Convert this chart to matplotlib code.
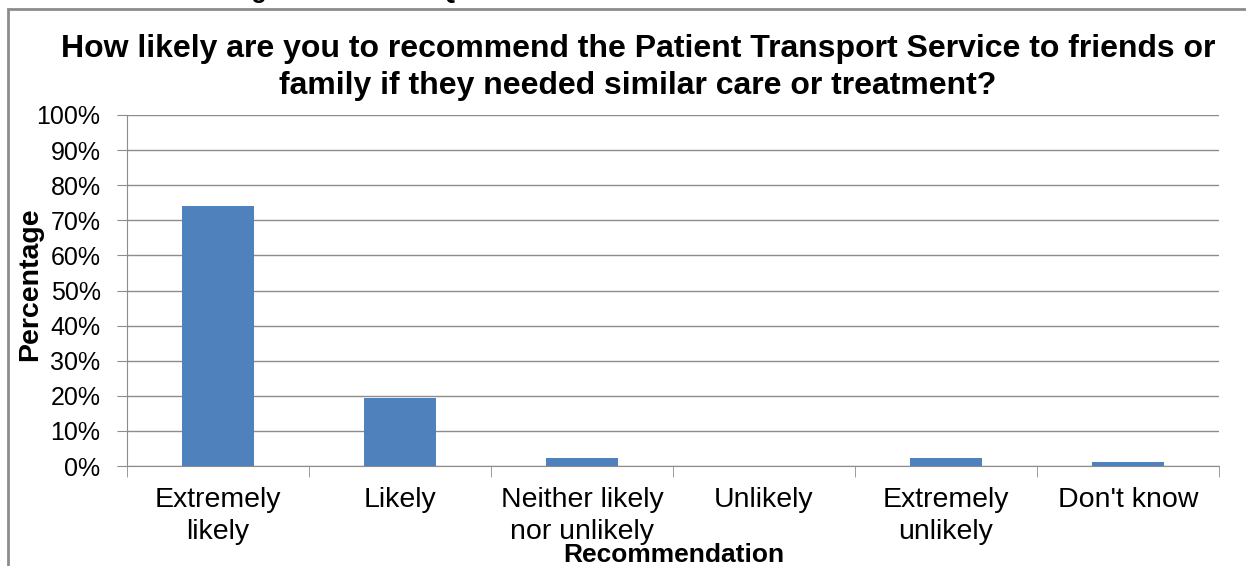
import numpy as np
import matplotlib.pyplot as plt
from matplotlib.patches import Rectangle
from matplotlib.ticker import PercentFormatter

categories = ["Extremely\nlikely", "Likely", "Neither likely\nnor unlikely",
              "Unlikely", "Extremely\nunlikely", "Don't know"]
values = [74.2, 19.4, 2.2, 0.0, 2.2, 1.1]

plt.rcParams['font.family'] = ['Liberation Sans', 'DejaVu Sans']

W, H = 1246, 566
fig = plt.figure(figsize=(W / 100, H / 100), dpi=100)
ax = fig.add_axes([127 / W, 1 - 466 / H, (1219 - 127) / W, (466 - 115) / H])

# frame around the chart (cut off at right and bottom)
fig.patches.append(Rectangle((8 / W, -0.1), 1.2, (H - 9) / H + 0.1,
                             transform=fig.transFigure, fill=False,
                             edgecolor="#8c8c8c", linewidth=2))

# clipped text of the page above the chart
fig.text(20 / W, 1 + 2 / H, "and chart illustrating the results of Q7",
         fontsize=18, fontweight="bold", va="baseline", ha="left")

x = np.arange(len(categories))
ax.bar(x, values, width=0.4, color="#4F81BD", zorder=3)

ax.set_xlim(-0.5, len(categories) - 0.5)
ax.set_ylim(0, 100)
ax.set_yticks(np.arange(0, 101, 10))
ax.yaxis.set_major_formatter(PercentFormatter(decimals=0))
ax.grid(axis="y", color="#8c8c8c", linewidth=1, zorder=0)

ax.set_xticks(x)
ax.set_xticklabels(categories, fontsize=20.5, linespacing=1.32)
ax.set_xticks(np.arange(-0.5, len(categories)), minor=True)
ax.tick_params(axis="x", which="major", length=0, pad=15)
ax.tick_params(axis="x", which="minor", length=8, color="#8c8c8c", direction="out")
ax.tick_params(axis="y", length=7, color="#8c8c8c", labelsize=18, pad=12)

for side in ["top", "right"]:
    ax.spines[side].set_visible(False)
for side in ["left", "bottom"]:
    ax.spines[side].set_color("#8c8c8c")

ax.set_ylabel("Percentage", fontsize=20.5, fontweight="bold", va="center")
ax.yaxis.set_label_coords(-(127 - 30) / 1092, (466 - 284) / 351)
ax.set_xlabel("Recommendation", fontsize=19, fontweight="bold", va="baseline")
ax.xaxis.set_label_coords((674 - 127) / 1092, -(562 - 466) / 351)

title_lines = ["How likely are you to recommend the Patient Transport Service to friends or",
               "family if they needed similar care or treatment?"]
for line, base in zip(title_lines, [57, 94]):
    fig.text(638 / W, 1 - base / H, line, fontsize=23, fontweight="bold",
             ha="center", va="baseline")

fig.savefig("out.png", dpi=100)
